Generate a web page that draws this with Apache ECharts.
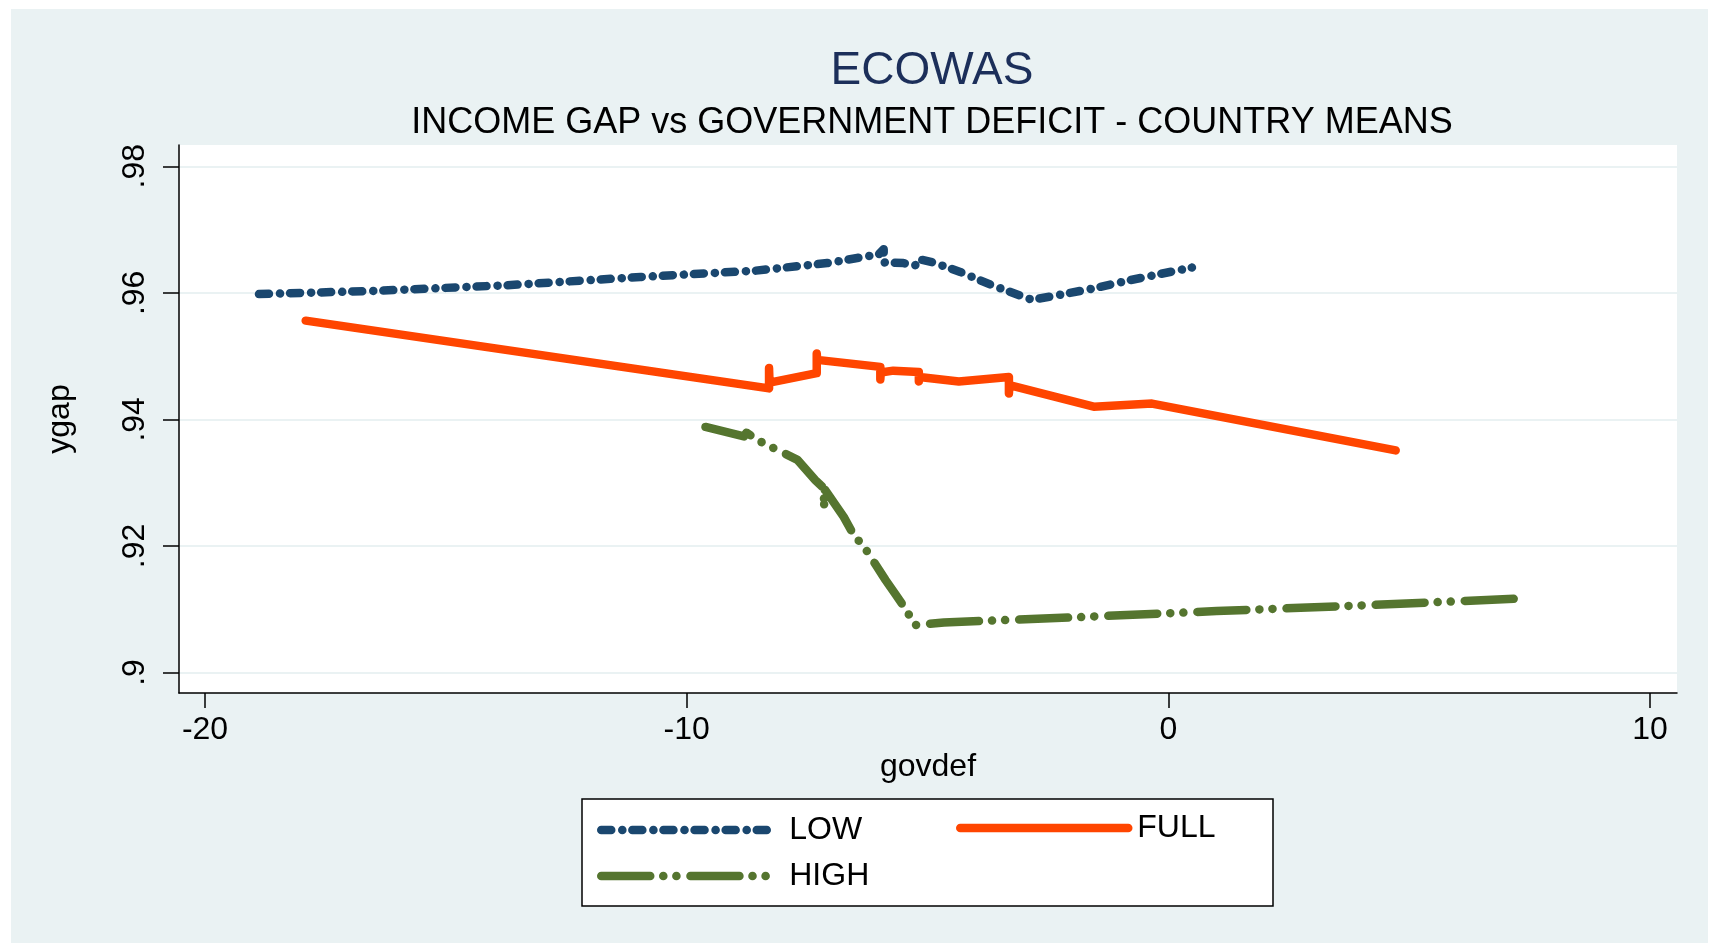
<!DOCTYPE html>
<html>
<head>
<meta charset="utf-8">
<title>ECOWAS</title>
<script src="https://cdn.jsdelivr.net/npm/echarts@6/dist/echarts.min.js"></script>
<style>
  html, body { margin: 0; padding: 0; background: #fff; }
  #chart { width: 1719px; height: 945px; }
</style>
</head>
<body>
<div id="chart"></div>
<script>
const xTicks = [-20, -10, 0, 10];
const xTickLabels = ["-20", "-10", "0", "10"];
const yTicks = [0.9, 0.92, 0.94, 0.96, 0.98];
const yTickLabels = [".9", ".92", ".94", ".96", ".98"];

// country means, sorted by govdef (repeated x = several points at one deficit)
const lowX = [-18.88, -16.49, -13.72, -10.96, -8.57, -7.08, -6.46, -6.01, -5.91, -5.91, -5.50, -5.26, -5.17, -4.88, -4.32, -3.63, -2.83, -2.24, -1.55, -0.86, 0.49];
const lowY = [0.9598, 0.9603, 0.9612, 0.9625, 0.9635, 0.9647, 0.9655, 0.9661, 0.9669, 0.9648, 0.9647, 0.9643, 0.9653, 0.9648, 0.9633, 0.9611, 0.9589, 0.9597, 0.9607, 0.9619, 0.9640];

const fullX = [-17.91, -8.29, -8.29, -8.28, -7.30, -7.30, -7.29, -5.98, -5.98, -5.97, -5.71, -5.18, -5.18, -5.17, -4.35, -3.31, -3.31, -3.30, -1.55, -0.34, 4.72];
const fullY = [0.9556, 0.9449, 0.9481, 0.9458, 0.9473, 0.9504, 0.9494, 0.9483, 0.9463, 0.9474, 0.9477, 0.9475, 0.9460, 0.9467, 0.9460, 0.9467, 0.9441, 0.9454, 0.9420, 0.9425, 0.9351];

const highX = [-9.61, -8.81, -8.76, -8.47, -8.26, -7.91, -7.70, -7.33, -7.15, -7.15, -7.13, -6.74, -6.53, -6.32, -5.87, -5.66, -5.49, -5.25, -4.66, -2.0, 1.0, 4.0, 7.32];
const highY = [0.9388, 0.9373, 0.9379, 0.9365, 0.9357, 0.9344, 0.9336, 0.9304, 0.9291, 0.9260, 0.9289, 0.9246, 0.9217, 0.9199, 0.9146, 0.9123, 0.9104, 0.9075, 0.9079, 0.9087, 0.9097, 0.9106, 0.9117];

const seriesNames = ["LOW", "FULL", "HIGH"];

const BG = "#EAF2F3";
const FONT = "'Liberation Sans', Arial, sans-serif";
const pairs = (xs, ys) => xs.map((x, i) => [x, ys[i]]);

const chart = echarts.init(document.getElementById("chart"), null, { renderer: "canvas" });

const lineBase = { cap: "round", join: "round", width: 8.5 };
// legend icons: line only, hide the default middle symbol
const legendItem = { color: "transparent", borderWidth: 0, opacity: 0 };

chart.setOption({
  animation: false,
  backgroundColor: "#fff",
  textStyle: { fontFamily: FONT },
  graphic: [
    { type: "rect", z: -10, shape: { x: 11, y: 9, width: 1697, height: 934 }, style: { fill: BG } },
    { type: "rect", z: 1, shape: { x: 582, y: 799, width: 691, height: 107 }, style: { fill: "#fff", stroke: "#000", lineWidth: 1.5 } },
  ],
  title: [
    { text: "ECOWAS", left: 927, top: 43, textAlign: "center",
      textStyle: { fontFamily: FONT, fontSize: 46, fontWeight: "normal", color: "#1c2f5a" } },
    { text: "INCOME GAP vs GOVERNMENT DEFICIT - COUNTRY MEANS", left: 927, top: 100, textAlign: "center",
      textStyle: { fontFamily: FONT, fontSize: 36, fontWeight: "normal", color: "#000" } },
  ],
  legend: [
    {
      data: ["LOW", "HIGH"], orient: "vertical", left: 597, top: 814, padding: 0,
      itemWidth: 168, itemHeight: 14, itemGap: 14,
      itemStyle: legendItem,
      lineStyle: { width: 8.5 },
      textStyle: { fontFamily: FONT, fontSize: 32, color: "#000", lineHeight: 32, padding: [0, 0, 0, 15] },
    },
    {
      data: ["FULL"], orient: "vertical", left: 956, top: 812, padding: 0,
      itemWidth: 168, itemHeight: 14,
      itemStyle: legendItem,
      lineStyle: { width: 8.5 },
      textStyle: { fontFamily: FONT, fontSize: 32, color: "#000", lineHeight: 32, padding: [0, 0, 0, 4] },
    },
  ],
  grid: { left: 179, right: 42, top: 145, bottom: 252, show: true, backgroundColor: "#fff", borderWidth: 0 },
  xAxis: {
    type: "value", min: -20.54, max: 10.56,
    name: "govdef", nameLocation: "middle", nameGap: 53,
    nameTextStyle: { fontFamily: FONT, fontSize: 32, color: "#000" },
    axisLine: { show: true, onZero: false, lineStyle: { color: "#000", width: 1.5 } },
    axisTick: { show: true, length: 15, customValues: xTicks, lineStyle: { color: "#000", width: 1.5 } },
    axisLabel: { customValues: xTicks, margin: 21, fontFamily: FONT, fontSize: 32, color: "#000",
      formatter: (v) => xTickLabels[xTicks.findIndex((t) => Math.abs(t - v) < 1e-6)] ?? "" },
    splitLine: { show: false },
  },
  yAxis: {
    type: "value", min: 0.89676, max: 0.98336,
    name: "ygap", nameLocation: "middle", nameGap: 103,
    nameTextStyle: { fontFamily: FONT, fontSize: 32, color: "#000" },
    axisLine: { show: true, onZero: false, lineStyle: { color: "#000", width: 1.5 } },
    axisTick: { show: true, length: 16, customValues: yTicks, lineStyle: { color: "#000", width: 1.5 } },
    axisLabel: { customValues: yTicks, rotate: 90, margin: 28, fontFamily: FONT, fontSize: 32, color: "#000",
      formatter: (v) => yTickLabels[yTicks.findIndex((t) => Math.abs(t - v) < 1e-6)] ?? "" },
    splitLine: { show: true, lineStyle: { color: BG, width: 2 } },
  },
  series: [
    {
      name: seriesNames[0], type: "line", data: pairs(lowX, lowY), symbol: "none", z: 3,
      itemStyle: { color: "#1A476F" },
      lineStyle: { ...lineBase, color: "#1A476F", type: [10, 11, 0.1, 10] },
    },
    {
      name: seriesNames[1], type: "line", data: pairs(fullX, fullY), symbol: "none", z: 3,
      itemStyle: { color: "#FF4500" },
      lineStyle: { ...lineBase, color: "#FF4500", type: "solid" },
    },
    {
      name: seriesNames[2], type: "line", data: pairs(highX, highY), symbol: "none", z: 3,
      itemStyle: { color: "#55752F" },
      lineStyle: { ...lineBase, color: "#55752F", type: [49, 13, 0.1, 13, 0.1, 14] },
    },
  ],
});
</script>
</body>
</html>
